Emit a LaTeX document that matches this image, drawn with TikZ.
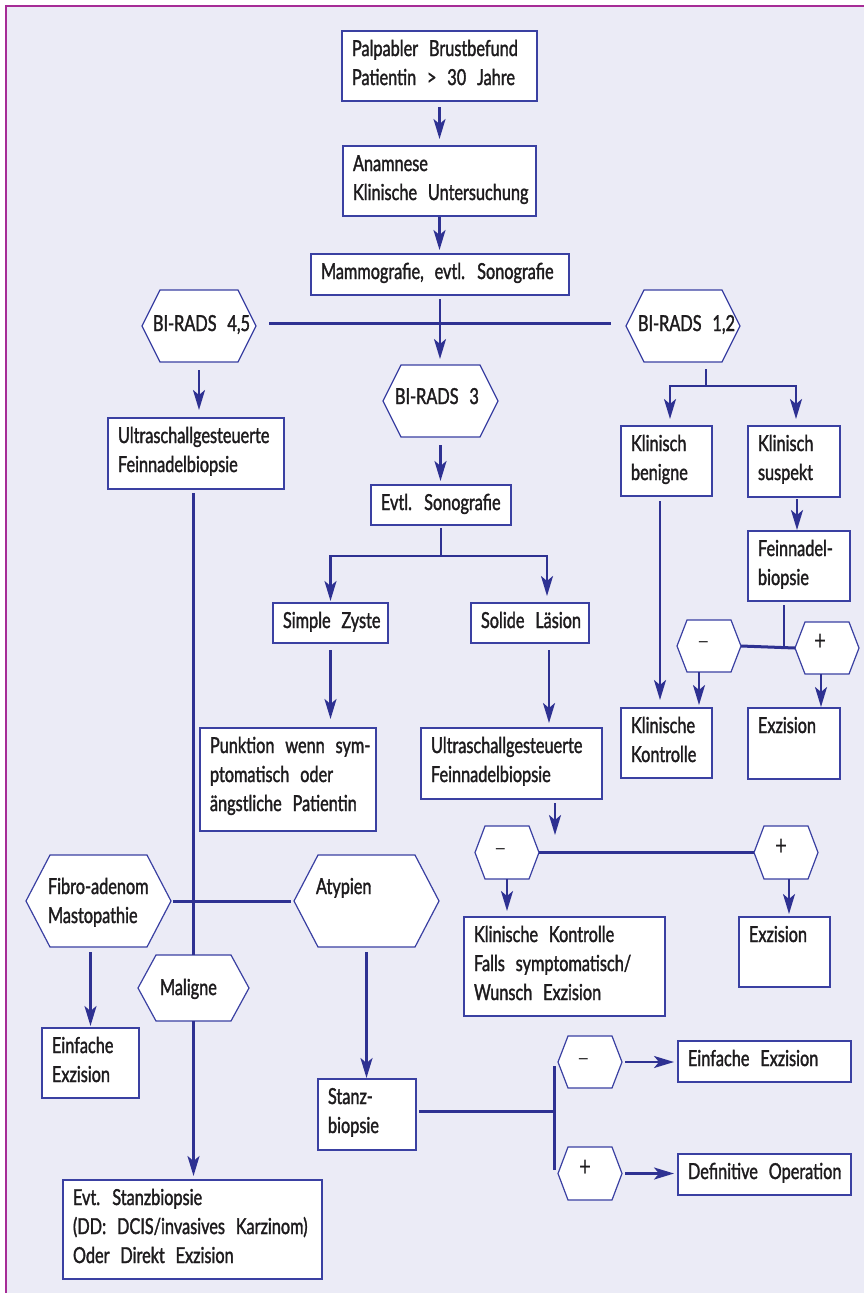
\documentclass[tikz,border=0pt]{standalone}
\usepackage{fontspec}
\setmainfont{Lato}[FakeStretch=0.74,WordSpace=2.6,FakeBold=1.5]
\newfontfamily\signfont{Lato}[FakeStretch=0.74]
\usetikzlibrary{arrows.meta,calc}
\definecolor{bg}{RGB}{235,235,246}
\definecolor{frm}{RGB}{166,44,150}
\definecolor{ln}{RGB}{46,49,146}
\definecolor{bx}{RGB}{58,64,162}
\definecolor{tx}{RGB}{30,28,30}
\tikzset{
 box/.style={draw=bx, fill=white, line width=1.2pt, inner sep=0pt, outer sep=0pt, rectangle},
 hexb/.style={draw=none, inner sep=0pt, outer sep=0pt, rectangle},
 hexd/.style={draw=bx, fill=white, line width=1.2pt, line join=miter},
 txt/.style={inner sep=0pt, outer sep=0pt, anchor=base west, text=tx, font=\fontsize{22}{29}\selectfont},
 sgn/.style={txt, font=\signfont\fontsize{18}{18}\selectfont},
 pls/.style={txt, font=\signfont\fontsize{28}{28}\selectfont},
 conn/.style={draw=ln, line width=2.4pt},
 bar/.style={draw=ln, line width=3pt},
 arr/.style={conn, -{Stealth[length=20pt,width=12pt,inset=5pt]}},
}
\newcommand\mybox[6]{%
 \node[box, minimum width={#4-#2}, minimum height={#5-#3}] (#1) at ({(#2+#4)/2},{(#3+#5)/2}) {};
 \node[txt] (#1t) at ({#2+10},{#3+25}) {\begin{tabular}[t]{@{}l@{}}#6\end{tabular}};}
\newcommand\myhex[6]{%
 \node[hexb, minimum width={#4-#2}, minimum height={#5-#3}] (#1) at ({(#2+#4)/2},{(#3+#5)/2}) {};
 \draw[hexd] (#1.west) -- ([xshift=#6pt]#1.north west) -- ([xshift=-#6pt]#1.north east) -- (#1.east) -- ([xshift=-#6pt]#1.south east) -- ([xshift=#6pt]#1.south west) -- cycle;}
\begin{document}
\begin{tikzpicture}[x=1pt,y=-1pt]
\useasboundingbox (0,0) rectangle (864,1293);
\fill[white] (0,0) rectangle (864,1293);
\fill[bg] (6,6) rectangle (864,1293);
\draw[frm, line width=2.6pt] (6,1293) -- (6,6) -- (864,6);

% boxes
\mybox{b1}{342}{31}{537}{101}{Palpabler Brustbefund\\Patientin > 30 Jahre}
\mybox{b2}{343}{146}{536}{216}{Anamnese\\Klinische Untersuchung}
\mybox{b3}{311}{254}{569}{295}{Mammografie, evtl. Sonografie}
\mybox{b4}{108}{418}{284}{489}{Ultraschallgesteuerte\\Feinnadelbiopsie}
\mybox{b5}{371}{485}{511}{525}{Evtl. Sonografie}
\mybox{b6}{273}{603}{388}{643}{Simple Zyste}
\mybox{b7}{471}{603}{589}{643}{Solide Läsion}
\mybox{b8}{621}{426}{712}{496}{Klinisch\\benigne}
\mybox{b9}{748}{426}{840}{497}{Klinisch\\suspekt}
\mybox{b10}{748}{531}{850}{601}{Feinnadel-\\biopsie}
\mybox{b11}{621}{708}{712}{778}{Klinische\\Kontrolle}
\mybox{b12}{748}{708}{840}{779}{Exzision}
\mybox{b13}{200}{728}{376}{831}{Punktion wenn sym-\\ptomatisch oder\\ängstliche Patientin}
\mybox{b14}{421}{728}{602}{799}{Ultraschallgesteuerte\\Feinnadelbiopsie}
\mybox{b15}{464}{917}{665}{1016}{Klinische Kontrolle\\Falls symptomatisch/\\Wunsch Exzision}
\mybox{b16}{739}{917}{830}{987}{Exzision}
\mybox{b17}{42}{1028}{139}{1098}{Einfache\\Exzision}
\mybox{b18}{318}{1079}{416}{1150}{Stanz-\\biopsie}
\mybox{b19}{63}{1180}{322}{1279}{Evt. Stanzbiopsie\\(DD: DCIS/invasives Karzinom)\\Oder Direkt Exzision}
\mybox{b20}{678}{1041}{851}{1082}{Einfache Exzision}
\mybox{b21}{678}{1154}{851}{1195}{Definitive Operation}

% hexagons
\myhex{h1}{142}{290}{256}{362}{18}
\myhex{h2}{626}{290}{740}{362}{18}
\myhex{h3}{383}{365}{498}{437}{18}
\myhex{h4}{677}{620}{741}{672}{10}
\myhex{h5}{795}{622}{859}{674}{10}
\myhex{h6}{475}{826}{539}{879}{10}
\myhex{h7}{754}{826}{818}{879}{10}
\myhex{h8}{26}{855}{171}{947}{24}
\myhex{h9}{294}{855}{439}{947}{24}
\myhex{h10}{138}{955}{249}{1021}{18}
\myhex{h11}{558}{1036}{622}{1088}{10}
\myhex{h12}{558}{1147}{622}{1200}{10}

\node[txt] (h1t) at (153,331) {BI-RADS 4,5};
\node[txt] (h2t) at (638,331) {BI-RADS 1,2};
\node[txt] (h3t) at (395,404) {BI-RADS 3};
\node[sgn] (h4t) at (698,647) {—};
\node[pls] (h5t) at (814,650) {+};
\node[sgn] (h6t) at (495,854) {—};
\node[pls] (h7t) at (775,855) {+};
\node[txt] (h8t) at (48,894) {\begin{tabular}[t]{@{}l@{}}Fibro-adenom\\Mastopathie\end{tabular}};
\node[txt] (h9t) at (316,894) {Atypien};
\node[txt] (h10t) at (160,995) {Maligne};
\node[sgn] (h11t) at (578,1064) {—};
\node[pls] (h12t) at (579,1176) {+};

% connectors
\draw[arr, shorten <=6pt, shorten >=7pt] (b1.south) -- (b2.north);
\draw[arr, shorten <=1pt, shorten >=4pt] (b2.south) -- (b2.south |- b3.north);
\draw[arr, shorten <=4pt, shorten >=6pt] (b3.south) -- (b3.south |- h3.north);
\draw[bar, shorten <=13pt, shorten >=15pt] ([yshift=3pt]h1.east) -- ([yshift=3pt]h2.west);
\draw[arr, shorten <=8pt, shorten >=8pt] (h1.south) -- (h1.south |- b4.north);
\draw[conn, shorten <=4pt] (h10.north |- b4.south) -- (h10.north);
\draw[bar, shorten <=2pt, shorten >=3pt] (h8.east) -- (h9.west);
\draw[arr, shorten <=5pt, shorten >=2pt] (h8.south -| b17.north) -- (b17.north);
\draw[arr, shorten <=5pt, shorten >=1pt] (h9.south) -- (h9.south |- b18.north);
\draw[arr, shorten >=4pt] (h10.south) -- (h10.south |- b19.north);
\draw[arr, shorten <=8pt, shorten >=4pt] (h3.south) -- (h3.south |- b5.north);
\coordinate (j5) at ($(b5.south)+(0,31)$);
\draw[conn, shorten <=3pt] (b5.south) -- (j5);
\draw[arr, shorten >=2pt] (j5) -| (b6.north);
\draw[arr, shorten >=7pt] (j5) -| ([xshift=17pt]b7.north);
\draw[arr, shorten <=7pt, shorten >=9pt] (b6.south) -- (b6.south |- b13.north);
\draw[arr, shorten <=7pt, shorten >=5pt] ([xshift=19pt]b7.south) -- ([xshift=19pt]b7.south |- b14.north);
\coordinate (e14) at ($(b14.south)+(43.5,36)$);
\draw[arr, shorten <=4pt] (b14.south -| e14) -- (e14);
\draw[bar] (h6.east) -- (h7.west);
\draw[arr, shorten >=6pt] (h6.south) -- (h6.south |- b15.north);
\draw[arr, shorten >=3pt] ([xshift=3pt]h7.south) -- ([xshift=3pt]h7.south |- b16.north);
\coordinate (j2) at ($(h2.south)+(23,24)$);
\draw[conn, shorten <=7pt] (h2.south -| j2) -- (j2);
\draw[arr, shorten >=7pt] (j2) -| ([xshift=3.5pt]b8.north);
\draw[arr, shorten >=7pt] (j2) -| ([xshift=2pt]b9.north);
\draw[arr, shorten <=2pt, shorten >=1pt] ([xshift=3pt]b9.south) -- ([xshift=3pt]b9.south |- b10.north);
\draw[arr, shorten <=5pt, shorten >=8pt] ([xshift=-6.5pt]b8.south) -- ([xshift=-6.5pt]b8.south |- b11.north);
\draw[bar] (h4.east) -- (h5.west);
\draw[conn, shorten <=4pt] ([xshift=-15pt]b10.south) -- ([xshift=-15pt]b10.south |- h5.west);
\draw[arr, shorten >=3pt] ([xshift=-10pt]h4.south) -- ([xshift=-10pt]h4.south |- b11.north);
\draw[arr, shorten >=1pt] ([xshift=-6pt]h5.south) -- ([xshift=-6pt]h5.south |- b12.north);
\coordinate (j18) at ($(b18.east)+(138,-3.5)$);
\draw[bar, shorten <=3pt] (b18.east |- j18) -- (j18);
\coordinate (v1) at ($(j18)+(0,-45)$);
\coordinate (v2) at ($(j18)+(0,59)$);
\draw[bar] (v1) -- (v2);
\draw[arr, shorten <=3pt, shorten >=4pt] (h11.east) -- (h11.east -| b20.west);
\draw[arr, shorten <=3pt, shorten >=4pt] (h12.east) -- (h12.east -| b21.west);
\end{tikzpicture}
\end{document}
